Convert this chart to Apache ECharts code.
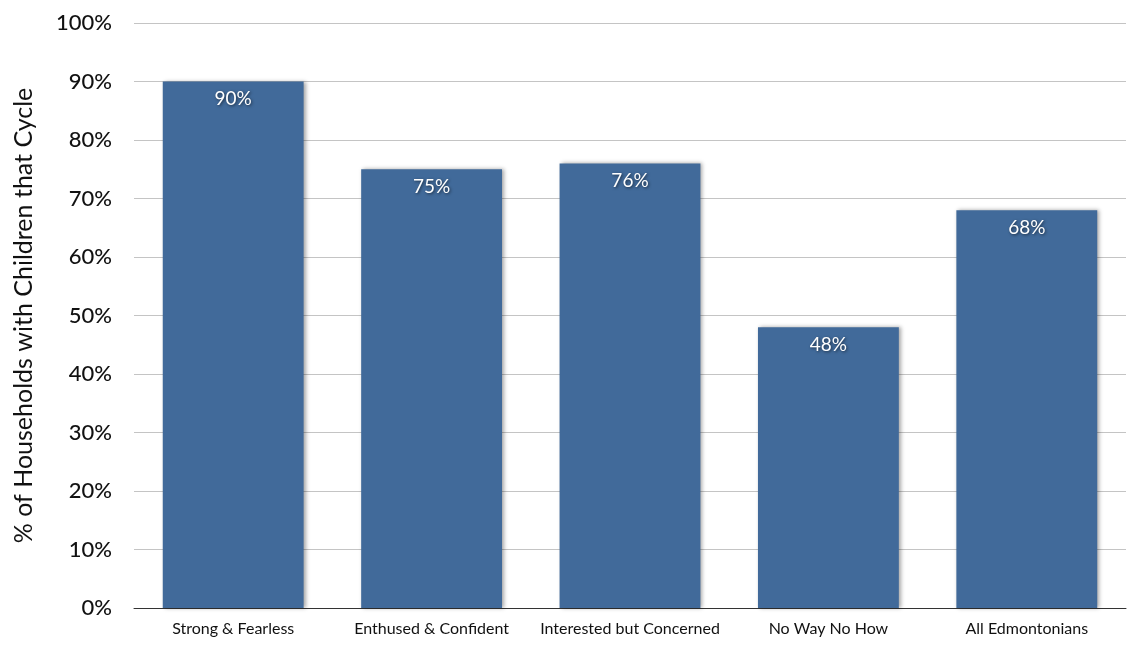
<!DOCTYPE html>
<html>
<head>
<meta charset="utf-8">
<script src="https://cdn.jsdelivr.net/npm/echarts@6/dist/echarts.min.js"></script>
<style>
  html, body { margin: 0; padding: 0; background: #ffffff; }
  #chart { width: 1132px; height: 650px; }
</style>
</head>
<body>
<div id="chart"></div>
<script>
// Share of households with children that cycle, by cyclist type
const categories = ['Strong & Fearless', 'Enthused & Confident', 'Interested but Concerned', 'No Way No How', 'All Edmontonians'];
const shares = [90, 75, 76, 48, 68];
const yTicks = { min: 0, max: 100, interval: 10 };

const FONT = 'Lato, "Open Sans", sans-serif';

const chart = echarts.init(document.getElementById('chart'));
chart.setOption({
  animation: false,
  backgroundColor: '#ffffff',
  grid: { left: 134, right: 6, top: 23, bottom: 42, containLabel: false },
  xAxis: {
    type: 'category',
    data: categories,
    axisLine: { lineStyle: { color: '#333333', width: 1 } },
    axisTick: { show: false },
    axisLabel: { color: '#111111', fontFamily: FONT, fontSize: 16, margin: 13, interval: 0 }
  },
  yAxis: {
    type: 'value',
    min: yTicks.min,
    max: yTicks.max,
    interval: yTicks.interval,
    name: '% of Households with Children that Cycle',
    nameLocation: 'middle',
    nameRotate: 90,
    nameGap: 98,
    nameTextStyle: { color: '#111111', fontFamily: FONT, fontSize: 25 },
    axisLine: { show: false },
    axisTick: { show: false },
    axisLabel: { color: '#111111', fontFamily: FONT, fontSize: 22, fontWeight: 500, margin: 22, formatter: '{value}%' },
    splitLine: { lineStyle: { color: '#c4c4c4', width: 1 } }
  },
  series: [{
    type: 'bar',
    data: shares,
    barCategoryGap: '29%',
    itemStyle: {
      color: '#416a9a',
      shadowColor: 'rgba(0,0,0,0.35)',
      shadowBlur: 4,
      shadowOffsetX: 2,
      shadowOffsetY: 0
    },
    label: {
      show: true,
      position: 'insideTop',
      distance: 8,
      formatter: '{c}%',
      color: '#ffffff',
      fontFamily: FONT,
      fontSize: 19,
      textShadowColor: 'rgba(0,0,0,0.6)',
      textShadowBlur: 3,
      textShadowOffsetX: 1,
      textShadowOffsetY: 1
    }
  }]
});
</script>
</body>
</html>
